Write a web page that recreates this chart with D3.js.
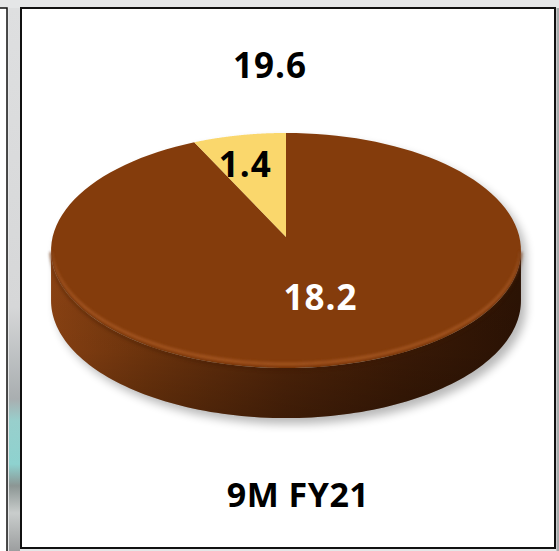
<!DOCTYPE html>
<html>
<head>
<meta charset="utf-8">
<script src="https://cdn.jsdelivr.net/npm/d3@7"></script>
<style>
  html, body { margin: 0; padding: 0; background: #e5e6e7; }
  svg { display: block; }
</style>
</head>
<body>
<svg id="chart" width="559" height="551"></svg>
<script>
// Segments of the period total
const categories = ["Segment A", "Segment B"];
const values = [18.2, 1.4];
const sliceColors = ["#843c0c", "#fad76c"];
const labelColors = ["#ffffff", "#000000"];
const periodLabel = "9M FY21";

const svg = d3.select("#chart");
const W = 559, H = 551;

// ---- page frame ----
const defs = svg.append("defs");

const strip = defs.append("linearGradient").attr("id", "strip")
  .attr("x1", 0).attr("y1", 0).attr("x2", 0).attr("y2", 1);
[[0, "#dedfe0"], [0.55, "#d6d7d8"], [0.72, "#a9aeb0"], [0.76, "#98cfcc"],
 [0.84, "#8ed2cf"], [0.88, "#8c9694"], [0.93, "#c9cdcc"], [1, "#9c9e9f"]]
  .forEach(([o, c]) => strip.append("stop").attr("offset", o).attr("stop-color", c));

svg.append("rect").attr("x", 0).attr("y", 0).attr("width", W).attr("height", H).attr("fill", "#e5e6e7");
svg.append("rect").attr("x", 9).attr("y", 8).attr("width", 11).attr("height", H - 8).attr("fill", "url(#strip)");
svg.append("rect").attr("x", -2).attr("y", 8).attr("width", 9).attr("height", H - 6)
  .attr("fill", "#ffffff").attr("stroke", "#111").attr("stroke-width", 1.5);
svg.append("rect").attr("x", 556.5).attr("y", 8).attr("width", 3).attr("height", H - 8).attr("fill", "#a9abad");
svg.append("rect").attr("x", 21).attr("y", 8).attr("width", 534).attr("height", 540)
  .attr("fill", "#ffffff").attr("stroke", "#111").attr("stroke-width", 2);

// ---- pie geometry (tilted disc with mild perspective) ----
const cx = 286, cy = 237, Rx = 233.4, Ry = 116, k = 0.115, depth = 50;

// angle a: clockwise from 12 o'clock, r in [0,1], z: downward offset
function project(a, r, z = 0) {
  const u = r * Math.sin(a), v = -r * Math.cos(a);
  const w = 1 - k * v;
  return [cx + Rx * u / w, cy + Ry * v / w + z];
}

const pie = d3.pie().value(d => d).sort(null);
const arcs = pie(values);

const line = d3.line();
function arcPoints(a0, a1, z, n = 120) {
  return d3.range(n + 1).map(i => project(a0 + (a1 - a0) * i / n, 1, z));
}

// silhouette angles where the side meets the outline
const aRight = Math.acos(-k);
const aLeft = 2 * Math.PI - aRight;

// gradients for the side wall and bevel
const sideH = defs.append("linearGradient").attr("id", "sideH")
  .attr("gradientUnits", "userSpaceOnUse")
  .attr("x1", cx - Rx).attr("y1", 0).attr("x2", cx + Rx).attr("y2", 0);
[[0, "#8a4213"], [0.2, "#70350d"], [0.5, "#4f2409"], [0.75, "#3b1a06"], [1, "#2c1304"]]
  .forEach(([o, c]) => sideH.append("stop").attr("offset", o).attr("stop-color", c));

const sideV = defs.append("linearGradient").attr("id", "sideV")
  .attr("x1", 0).attr("y1", 0).attr("x2", 0).attr("y2", 1);
[[0, "#000", 0], [0.6, "#000", 0.05], [1, "#000", 0.22]]
  .forEach(([o, c, op]) => sideV.append("stop").attr("offset", o).attr("stop-color", c).attr("stop-opacity", op));

const blur5 = defs.append("filter").attr("id", "blur5").attr("x", "-20%").attr("y", "-20%").attr("width", "140%").attr("height", "140%");
blur5.append("feGaussianBlur").attr("stdDeviation", 5);
const blur2 = defs.append("filter").attr("id", "blur2").attr("x", "-10%").attr("y", "-10%").attr("width", "120%").attr("height", "120%");
blur2.append("feGaussianBlur").attr("stdDeviation", 1.6);

const g = svg.append("g");

// soft drop shadow
const outline = arcPoints(aLeft - 2 * Math.PI, aRight, 0)
  .concat(arcPoints(aRight, aLeft, depth));
g.append("path")
  .attr("d", line(outline.map(([x, y]) => [x + 5, y + 6])) + "Z")
  .attr("fill", "#000").attr("opacity", 0.28).attr("filter", "url(#blur5)");

// side wall (near half)
const sidePts = arcPoints(aRight, aLeft, 0).concat(arcPoints(aLeft, aRight, depth));
g.append("path").attr("d", line(sidePts) + "Z").attr("fill", "url(#sideH)");
g.append("path").attr("d", line(sidePts) + "Z").attr("fill", "url(#sideV)");

// top face slices
g.selectAll("path.slice").data(arcs).join("path")
  .attr("class", "slice")
  .attr("d", d => line([project(0, 0)].concat(arcPoints(d.startAngle, d.endAngle, 0))) + "Z")
  .attr("fill", (d, i) => sliceColors[i]);

// bevel highlight along the near rim
g.append("path")
  .attr("d", line(arcPoints(aRight + 0.05, aLeft - 0.05, -4)))
  .attr("fill", "none").attr("stroke", "#b1602b").attr("stroke-width", 2.4)
  .attr("opacity", 0.85).attr("filter", "url(#blur2)");
g.append("path")
  .attr("d", line(arcPoints(aRight, aLeft, 1.5)))
  .attr("fill", "none").attr("stroke", "#3a1906").attr("stroke-width", 3)
  .attr("opacity", 0.35).attr("filter", "url(#blur2)");

// value labels on the slices
const labelR = [0.5, 0.7];
const labelDx = [7, -7];
const font = "'Open Sans', 'DejaVu Sans', sans-serif";
g.selectAll("text.val").data(arcs).join("text")
  .attr("class", "val")
  .attr("x", (d, i) => project((d.startAngle + d.endAngle) / 2, labelR[i])[0] + labelDx[i])
  .attr("y", (d, i) => project((d.startAngle + d.endAngle) / 2, labelR[i])[1])
  .attr("text-anchor", "middle").attr("dominant-baseline", "central")
  .attr("font-family", font).attr("font-weight", 700).attr("font-size", 35)
  .attr("letter-spacing", 1)
  .attr("fill", (d, i) => labelColors[i])
  .text(d => d3.format(".1f")(d.value));

// period total and period name
svg.append("text")
  .attr("x", 270).attr("y", 78)
  .attr("text-anchor", "middle")
  .attr("font-family", font).attr("font-weight", 700).attr("font-size", 35)
  .attr("letter-spacing", 1)
  .attr("fill", "#000")
  .text(d3.format(".1f")(d3.sum(values)));

svg.append("text")
  .attr("x", 298).attr("y", 507)
  .attr("text-anchor", "middle")
  .attr("font-family", font).attr("font-weight", 700).attr("font-size", 34)
  .attr("letter-spacing", 0.5)
  .attr("fill", "#000")
  .text(periodLabel);
</script>
</body>
</html>
